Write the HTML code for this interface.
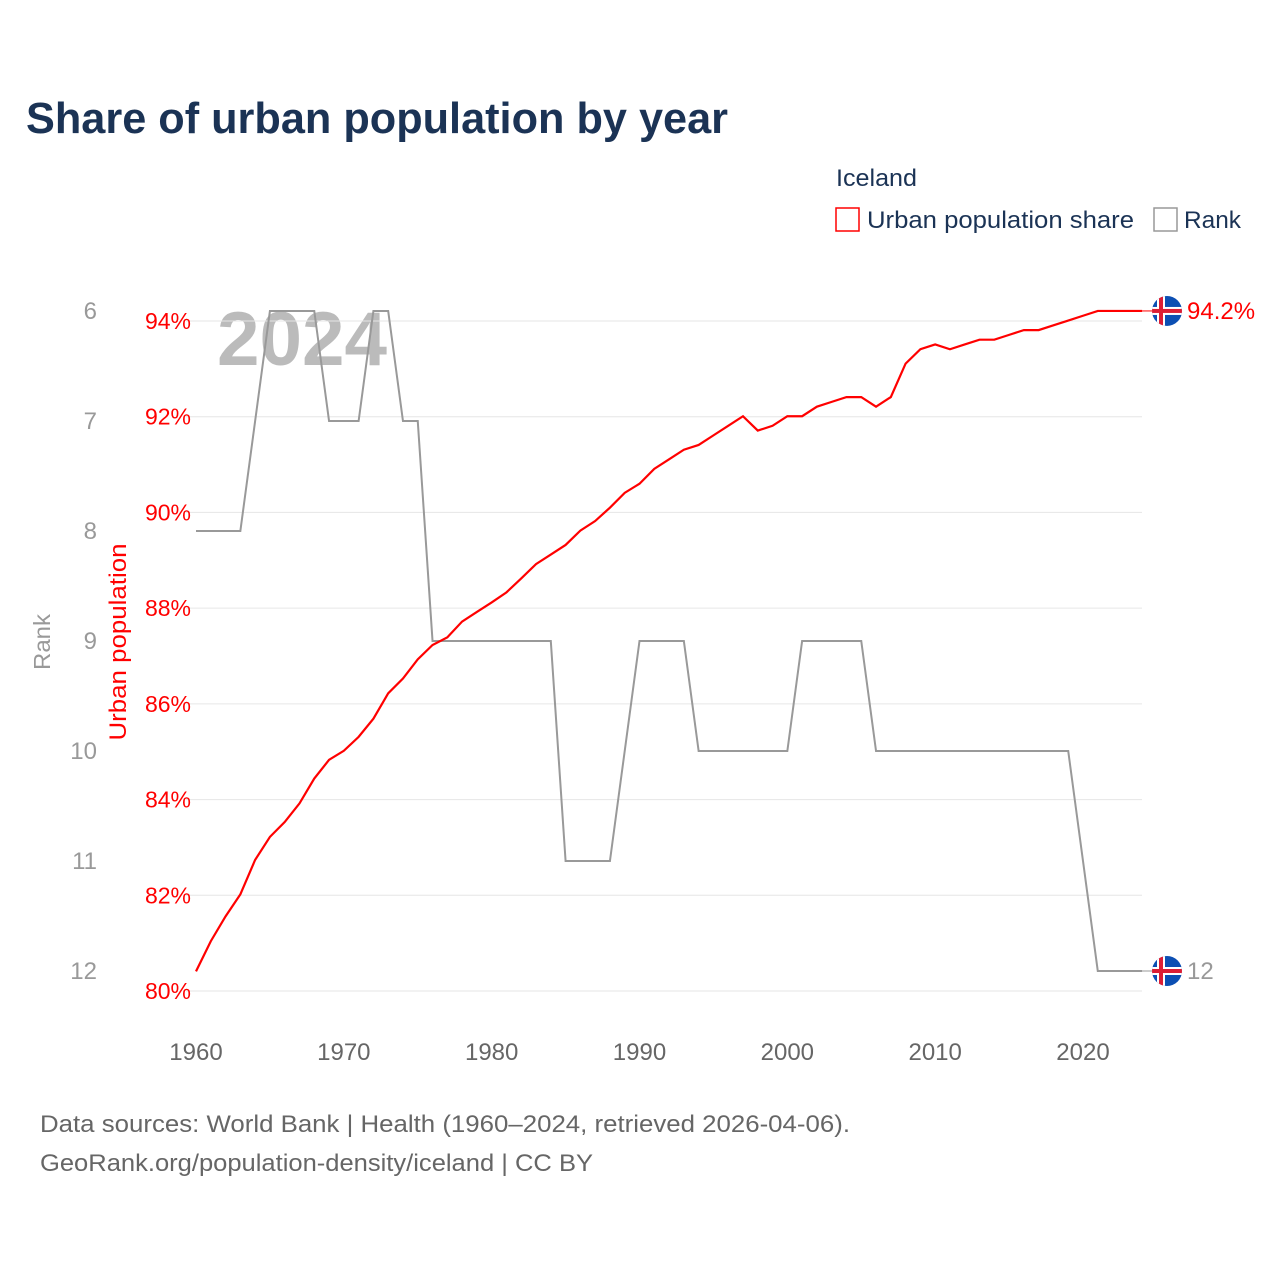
<!DOCTYPE html>
<html><head><meta charset="utf-8"><style>
html,body{margin:0;padding:0;background:#fff;}
svg{display:block;font-family:"Liberation Sans",sans-serif;}
</style></head><body>
<svg id="chart" width="1280" height="1280" viewBox="0 0 1280 1280" xmlns="http://www.w3.org/2000/svg">
<text x="26" y="133" font-size="44" font-weight="bold" fill="#1b3355" textLength="702" lengthAdjust="spacingAndGlyphs">Share of urban population by year</text>
<text x="836" y="186" font-size="24" fill="#1b3355" textLength="81" lengthAdjust="spacingAndGlyphs">Iceland</text>
<g>
<rect x="836" y="208" width="23" height="23" fill="none" stroke="#ff0000" stroke-width="1.5"/>
<text x="867" y="228" font-size="24" fill="#1b3355" textLength="267" lengthAdjust="spacingAndGlyphs">Urban population share</text></g>
<g>
<rect x="1154" y="208" width="23" height="23" fill="none" stroke="#999" stroke-width="1.5"/>
<text x="1184" y="228" font-size="24" fill="#1b3355" textLength="57" lengthAdjust="spacingAndGlyphs">Rank</text></g>
<text x="217" y="365" font-size="76" font-weight="bold" fill="#bbbbbb" textLength="170" lengthAdjust="spacingAndGlyphs">2024</text>
<g id="grid"></g><g id="axes"></g><g id="marks"></g>
<text transform="translate(50,642) rotate(-90)" text-anchor="middle" font-size="23" fill="#999" textLength="56" lengthAdjust="spacingAndGlyphs">Rank</text>
<text transform="translate(126,642) rotate(-90)" text-anchor="middle" font-size="24" fill="#ff0000" textLength="197" lengthAdjust="spacingAndGlyphs">Urban population</text>
<text x="40" y="1132" font-size="24" fill="#666" textLength="810" lengthAdjust="spacingAndGlyphs">Data sources: World Bank | Health (1960–2024, retrieved 2026-04-06).</text>
<text x="40" y="1171" font-size="24" fill="#666" textLength="553" lengthAdjust="spacingAndGlyphs">GeoRank.org/population-density/iceland | CC BY</text>
</svg>
<script>
const years=[];for(let y=1960;y<=2024;y++)years.push(y);
const urbanShare=[80.41,81.04,81.56,82.02,82.74,83.22,83.53,83.92,84.44,84.83,85.02,85.31,85.69,86.22,86.53,86.93,87.23,87.39,87.72,87.92,88.12,88.33,88.62,88.92,89.12,89.32,89.62,89.82,90.10,90.41,90.60,90.91,91.11,91.31,91.41,91.61,91.81,92.01,91.71,91.81,92.01,92.01,92.21,92.31,92.41,92.41,92.21,92.41,93.11,93.41,93.51,93.41,93.51,93.61,93.61,93.71,93.81,93.81,93.91,94.01,94.11,94.21,94.21,94.21,94.21];
const rankValues=[8,8,8,8,7,6,6,6,6,7,7,7,6,6,7,7,9,9,9,9,9,9,9,9,9,11,11,11,11,10,9,9,9,9,10,10,10,10,10,10,10,9,9,9,9,9,10,10,10,10,10,10,10,10,10,10,10,10,10,10,11,12,12,12,12];
const xTicks=[1960,1970,1980,1990,2000,2010,2020];
const urbanTicks=[80,82,84,86,88,90,92,94];
const rankTicks=[6,7,8,9,10,11,12];
const NS="http://www.w3.org/2000/svg";
const x=y=>196+(y-1960)*(1083-196)/60;
const yU=v=>991-(v-80)*(991-321)/14;
const yR=r=>311+(r-6)*110;
function mk(tag,attrs,parent,text){const e=document.createElementNS(NS,tag);for(const k in attrs)e.setAttribute(k,attrs[k]);if(text!==undefined)e.textContent=text;document.getElementById(parent).appendChild(e);return e;}
urbanTicks.forEach(t=>{
 const l=mk('line',{x1:186,x2:1142,y1:yU(t),y2:yU(t),stroke:'#e6e6e6','stroke-width':1},'grid');
 
 
 const tx=mk('text',{x:191,y:yU(t)+8,'text-anchor':'end','font-size':23,fill:'#ff0000'},'axes',t+'%');
 
 
});
rankTicks.forEach(t=>{
 const tx=mk('text',{x:97,y:yR(t)+8,'text-anchor':'end','font-size':24,fill:'#999'},'axes',t);
 
 
});
xTicks.forEach(t=>{
 const tx=mk('text',{x:x(t),y:1060,'text-anchor':'middle','font-size':24,fill:'#666'},'axes',t);
 
 
});
const rp=mk('polyline',{points:years.map((y,i)=>x(y)+','+yR(rankValues[i])).join(' '),fill:'none',stroke:'#999','stroke-width':2},'marks');


const up=mk('polyline',{points:years.map((y,i)=>x(y)+','+yU(urbanShare[i])).join(' '),fill:'none',stroke:'#ff0000','stroke-width':2.2},'marks');


function flag(cy,lineColor,label,labelColor,name){
 const lx=x(years[years.length-1]);
 const ln=mk('line',{x1:lx,x2:1152,y1:cy,y2:cy,stroke:lineColor,'stroke-width':1},'marks');
 
 
 const g=mk('g',{},'marks');
 
 
 const cx=1167,r=15;
 const cid='c'+name;
 const cp=document.createElementNS(NS,'clipPath');cp.setAttribute('id',cid);
 const cc=document.createElementNS(NS,'circle');cc.setAttribute('cx',cx);cc.setAttribute('cy',cy);cc.setAttribute('r',r);cp.appendChild(cc);g.appendChild(cp);
 const inner=document.createElementNS(NS,'g');inner.setAttribute('clip-path','url(#'+cid+')');g.appendChild(inner);
 const add=(a)=>{const e=document.createElementNS(NS,'rect');for(const k in a)e.setAttribute(k,a[k]);inner.appendChild(e);};
 add({x:cx-r,y:cy-r,width:2*r,height:2*r,fill:'#0c4fb3'});
 add({x:cx-10,y:cy-r,width:8,height:2*r,fill:'#fff'});
 add({x:cx-r,y:cy-4,width:2*r,height:8,fill:'#fff'});
 add({x:cx-8,y:cy-r,width:4,height:2*r,fill:'#dc1e35'});
 add({x:cx-r,y:cy-2,width:2*r,height:4,fill:'#dc1e35'});
 const t=mk('text',{x:1187,y:cy+8,'font-size':24,fill:labelColor},'marks',label);
 
 
}
flag(yU(urbanShare[urbanShare.length-1]),'#ff0000',urbanShare[urbanShare.length-1].toFixed(1)+'%','#ff0000','urban');
flag(yR(rankValues[rankValues.length-1]),'#999',String(rankValues[rankValues.length-1]),'#999','rank');
</script>
</body></html>
